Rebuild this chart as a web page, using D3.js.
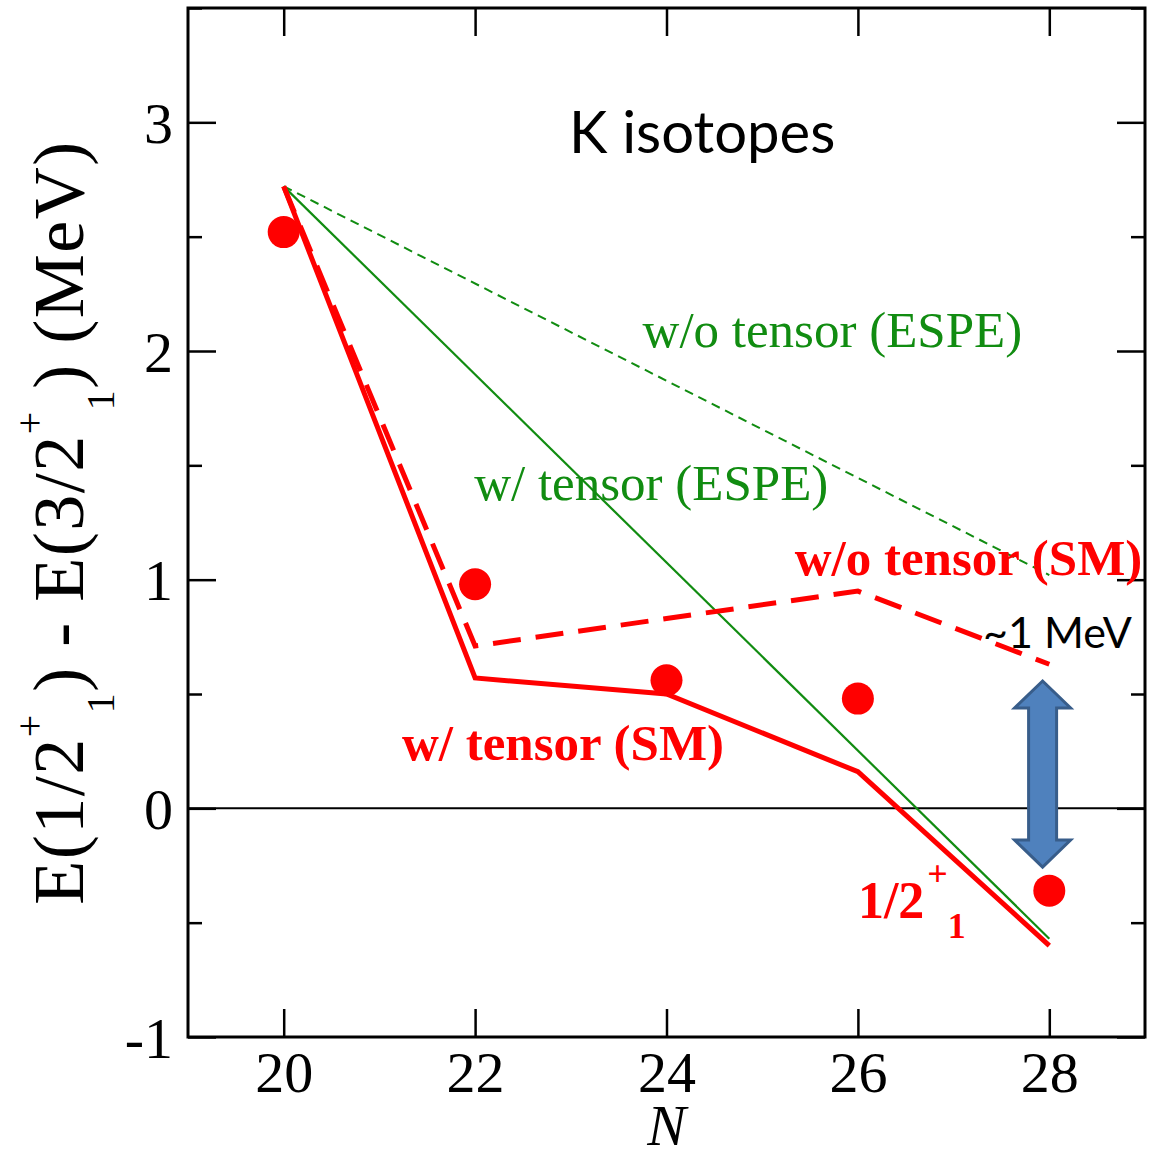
<!DOCTYPE html>
<html>
<head>
<meta charset="utf-8">
<script src="https://cdn.jsdelivr.net/npm/d3@7"></script>
<style>
  html, body { margin: 0; padding: 0; background: #fff; }
  svg { display: block; }
</style>
</head>
<body>
<svg id="chart" width="1152" height="1157"></svg>
<script>
const neutronNumbers = [20, 22, 24, 26, 28];
const experiment = [2.52, 0.98, 0.56, 0.48, -0.36];
const smWithTensor = [2.72, 0.57, 0.5, 0.16, -0.6];
const smWithoutTensor = [2.72, 0.71, 0.83, 0.95, 0.63];
const espeWithTensor = [[20, 2.72], [28, -0.57]];
const espeWithoutTensor = [[20, 2.72], [28, 1.02]];
const xTicks = [20, 22, 24, 26, 28];
const yTicks = [-1, 0, 1, 2, 3];
const yMinorTicks = [-0.5, 0.5, 1.5, 2.5, 3.5];

const width = 1152;
const height = 1157;
const plot = { left: 188, right: 1145, top: 8, bottom: 1037 };
const serif = "'Liberation Serif', 'Times New Roman', serif";
const sans = "Lato, 'Open Sans', sans-serif";
const red = "#ff0000";
const green = "#118c11";

const x = d3.scaleLinear().domain([19, 29]).range([plot.left, plot.right]);
const y = d3.scaleLinear().domain([-1, 3.5]).range([plot.bottom, plot.top]);

const svg = d3.select("#chart");

// zero line
svg.append("line")
  .attr("x1", plot.left).attr("x2", plot.right)
  .attr("y1", y(0)).attr("y2", y(0))
  .attr("stroke", "#000").attr("stroke-width", 2);

// axes, ticks pointing inward
const bottomAxis = svg.append("g")
  .attr("transform", `translate(0,${plot.bottom})`)
  .call(d3.axisBottom(x).tickValues(xTicks).tickSize(-28).tickPadding(14).tickFormat((d) => String(d)));
const topAxis = svg.append("g")
  .attr("transform", `translate(0,${plot.top})`)
  .call(d3.axisTop(x).tickValues(xTicks).tickSize(-28).tickFormat(""));
const leftAxis = svg.append("g")
  .attr("transform", `translate(${plot.left},0)`)
  .call(d3.axisLeft(y).tickValues(yTicks).tickSize(-28).tickPadding(15).tickFormat((d) => String(d)));
const rightAxis = svg.append("g")
  .attr("transform", `translate(${plot.right},0)`)
  .call(d3.axisRight(y).tickValues(yTicks).tickSize(-28).tickFormat(""));
const leftMinor = svg.append("g")
  .attr("transform", `translate(${plot.left},0)`)
  .call(d3.axisLeft(y).tickValues(yMinorTicks).tickSize(-14).tickFormat(""));
const rightMinor = svg.append("g")
  .attr("transform", `translate(${plot.right},0)`)
  .call(d3.axisRight(y).tickValues(yMinorTicks).tickSize(-14).tickFormat(""));

for (const axis of [bottomAxis, topAxis, leftAxis, rightAxis, leftMinor, rightMinor]) {
  axis.select(".domain").remove();
  axis.selectAll(".tick line").attr("stroke", "#000").attr("stroke-width", 2.5);
  axis.selectAll(".tick text")
    .attr("fill", "#000")
    .attr("font-family", serif)
    .attr("font-size", 58);
}
bottomAxis.selectAll(".tick text").attr("dy", "0.71em");
leftAxis.selectAll(".tick text").attr("dy", "0.35em");

svg.append("rect")
  .attr("x", plot.left).attr("y", plot.top)
  .attr("width", plot.right - plot.left).attr("height", plot.bottom - plot.top)
  .attr("fill", "none").attr("stroke", "#000").attr("stroke-width", 3);

// axis titles
svg.append("text")
  .attr("x", x(24)).attr("y", 1145)
  .attr("text-anchor", "middle")
  .attr("font-family", serif).attr("font-style", "italic").attr("font-size", 58)
  .text("N");

const yTitle = svg.append("text")
  .attr("transform", `translate(83,${(898 + 147) / 2}) rotate(-90)`)
  .attr("text-anchor", "middle")
  .attr("font-family", serif).attr("font-size", 72).attr("letter-spacing", 1.5).attr("fill", "#000");
yTitle.append("tspan").text("E(1/2");
yTitle.append("tspan").attr("font-size", 40).attr("dy", -40).text("+");
yTitle.append("tspan").attr("font-size", 40).attr("dy", 71).text("1");
yTitle.append("tspan").attr("dy", -31).text(") - E(3/2");
yTitle.append("tspan").attr("font-size", 40).attr("dy", -40).text("+");
yTitle.append("tspan").attr("font-size", 40).attr("dy", 71).text("1");
yTitle.append("tspan").attr("dy", -31).text(") (MeV)");

// lines
const line = d3.line().x((d) => x(d[0])).y((d) => y(d[1]));
const zip = (values) => neutronNumbers.map((n, i) => [n, values[i]]);

const series = [
  { points: espeWithoutTensor, color: green, width: 2, dash: "9,6" },
  { points: espeWithTensor, color: green, width: 2.2, dash: null },
  { points: zip(smWithoutTensor), color: red, width: 5, dash: "28,15" },
  { points: zip(smWithTensor), color: red, width: 5, dash: null },
];

svg.append("g")
  .selectAll("path")
  .data(series)
  .join("path")
  .attr("fill", "none")
  .attr("stroke", (s) => s.color)
  .attr("stroke-width", (s) => s.width)
  .attr("stroke-dasharray", (s) => s.dash)
  .attr("d", (s) => line(s.points));

svg.append("g")
  .selectAll("circle")
  .data(zip(experiment))
  .join("circle")
  .attr("cx", (d) => x(d[0]))
  .attr("cy", (d) => y(d[1]))
  .attr("r", 16)
  .attr("fill", red);

// labels
const labels = [
  { text: "K isotopes", at: [22.98, 2.866], color: "#000", family: sans, size: 58, weight: 400 },
  { text: "w/o tensor (ESPE)", at: [23.75, 2.017], color: green, family: serif, size: 51, weight: 400 },
  { text: "w/ tensor (ESPE)", at: [21.99, 1.35], color: green, family: serif, size: 51, weight: 400 },
  { text: "w/o tensor (SM)", at: [25.34, 1.02], color: red, family: serif, size: 51, weight: 700 },
  { text: "w/ tensor (SM)", at: [21.236, 0.21], color: red, family: serif, size: 51, weight: 700 },
  { text: "~1 MeV", at: [27.308, 0.701], color: "#000", family: sans, size: 43, weight: 400 },
];

svg.append("g")
  .selectAll("text")
  .data(labels)
  .join("text")
  .attr("x", (d) => x(d.at[0]))
  .attr("y", (d) => y(d.at[1]))
  .attr("fill", (d) => d.color)
  .attr("font-family", (d) => d.family)
  .attr("font-size", (d) => d.size)
  .attr("font-weight", (d) => d.weight)
  .text((d) => d.text);

const stateLabel = svg.append("text")
  .attr("x", x(26.0)).attr("y", y(-0.48))
  .attr("fill", red).attr("font-family", serif).attr("font-weight", 700).attr("font-size", 52);
stateLabel.append("tspan").text("1/2");
stateLabel.append("tspan").attr("font-size", 36).attr("dx", 3).attr("dy", -32).text("+");
stateLabel.append("tspan").attr("font-size", 36).attr("dx", 0).attr("dy", 52).text("1");

// double arrow marking the ~1 MeV gap
const arrow = { n: 27.93, top: 0.557, bottom: -0.257 };
const ax = x(arrow.n);
const yTop = y(arrow.top);
const yBot = y(arrow.bottom);
const head = 27, headHalf = 28, shaftHalf = 14;
const arrowPath = d3.path();
arrowPath.moveTo(ax, yTop);
arrowPath.lineTo(ax + headHalf, yTop + head);
arrowPath.lineTo(ax + shaftHalf, yTop + head);
arrowPath.lineTo(ax + shaftHalf, yBot - head);
arrowPath.lineTo(ax + headHalf, yBot - head);
arrowPath.lineTo(ax, yBot);
arrowPath.lineTo(ax - headHalf, yBot - head);
arrowPath.lineTo(ax - shaftHalf, yBot - head);
arrowPath.lineTo(ax - shaftHalf, yTop + head);
arrowPath.lineTo(ax - headHalf, yTop + head);
arrowPath.closePath();
svg.append("path")
  .attr("d", arrowPath.toString())
  .attr("fill", "#4f81bd")
  .attr("stroke", "#385d8a")
  .attr("stroke-width", 3)
  .attr("stroke-linejoin", "miter");
</script>
</body>
</html>
